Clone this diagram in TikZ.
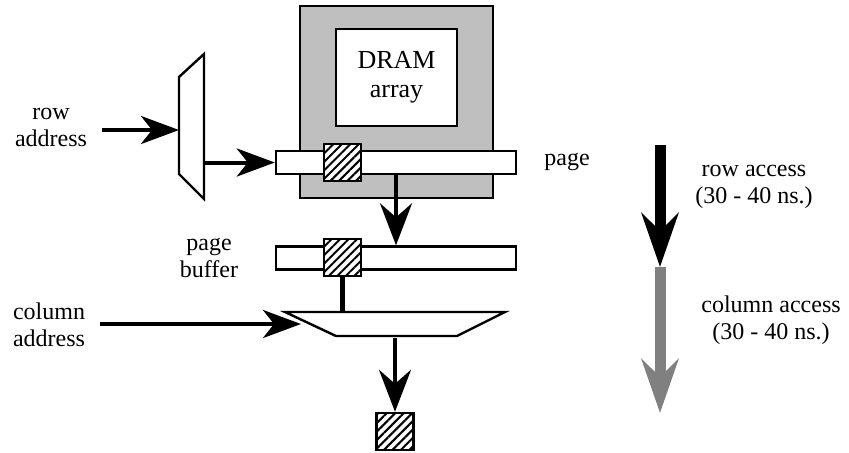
\documentclass[tikz,border=0pt]{standalone}
\usepackage{fontspec}
\setmainfont{Liberation Serif}
\usetikzlibrary{arrows.meta,patterns.meta}

\begin{document}
\begin{tikzpicture}[x=0.5pt, y=-0.5pt]
    \tikzstyle{every node} = [align=center, font=\fontsize{12}{13.5}\selectfont]
    \tikzstyle{chip} = [draw, line width=1.2pt, fill=black!25, minimum width=96.5pt, minimum height=96pt]
    \tikzstyle{arraybox} = [draw, line width=1.2pt, fill=white, minimum width=60.5pt, minimum height=48.5pt, font=\fontsize{13}{14.5}\selectfont]
    \tikzstyle{bar} = [draw, line width=1.2pt, fill=white, minimum width=120pt, minimum height=11.5pt, inner sep=0pt]
    \tikzstyle{bit} = [draw, line width=1.2pt, preaction={fill=white}, pattern={Lines[angle=45, distance=3pt, line width=1pt]}, minimum size=18.5pt, inner sep=0pt]
    \tikzstyle{mux} = [draw, line width=1.2pt, fill=white]
    \tikzstyle{wire} = [line width=2pt, -{Stealth[length=19pt, width=14pt, inset=5.5pt]}]
    \tikzstyle{drop} = [line width=2pt, -{Stealth[length=21pt, width=16pt, inset=7pt]}]
    \tikzstyle{phase} = [line width=5.5pt, -{Stealth[length=27pt, width=18.5pt, inset=9pt]}]
    \useasboundingbox (0,0) rectangle (849,452);

    \node [chip] (dram) at (396.5,102) {};
    \node [arraybox] (array) at (396.5,77.5) {DRAM\\array};
    \node [bar] (page) at (396,162.5) {};
    \node [bit] (pagebit) at (342.5,162.5) {};
    \node [bar] (buffer) at (396,258) {};
    \node [bit] (bufferbit) at (342.5,257.5) {};
    \node [bit] (out) at (395,431.5) {};

    \draw [mux] (179,77) -- (204,54) -- (204,199) -- (179,174) -- cycle;
    \draw [mux] (285,312) -- (505,312) -- (457,336) -- (336,336) -- cycle;
    \coordinate (rowin) at (179,130);
    \coordinate (rowsel) at (204,162.5);
    \coordinate (colin) at (301,324);
    \coordinate (coltop) at (342.5,312);
    \coordinate (colout) at (395,338);

    \node (rowaddr) at (51,127) {row\\address};
    \node (coladdr) at (49,325) {column\\address};
    \node (pagelbl) at (567,162) {page};
    \node (bufferlbl) at (209,258) {page\\buffer};
    \node (rowtime) at (754,187) {row access\\(30 - 40 ns.)};
    \node (coltime) at (771,320) {column access\\(30 - 40 ns.)};

    \draw [wire] ([xshift=4pt]rowaddr.east |- rowin) -- (rowin);
    \draw [wire] (rowsel) -- (page.west);
    \draw [wire] ([xshift=4pt]coladdr.east |- colin) -- (colin);
    \draw [drop] (page.south) -- (buffer.north);
    \draw [line width=2.4pt] (bufferbit.south) -- (coltop);
    \draw [drop] (colout) -- (out.north);

    \coordinate (t0) at (660,145);
    \coordinate (t1) at (660,267);
    \coordinate (t2) at (660,413);
    \draw [phase, black!50] (t1) -- (t2);
    \draw [phase] (t0) -- (t1);
\end{tikzpicture}
\end{document}
